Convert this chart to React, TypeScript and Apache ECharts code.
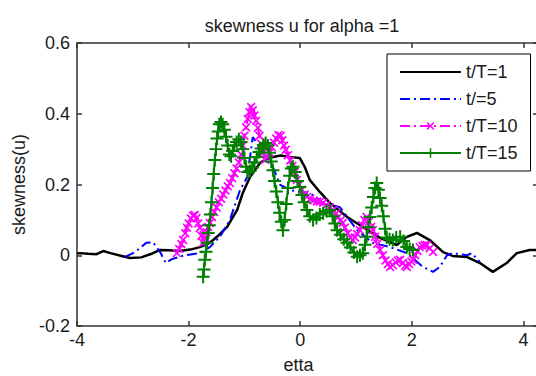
import React, { useEffect, useRef } from "react";
import * as echarts from "echarts";

const FONT = "'Liberation Sans', Arial, Helvetica, sans-serif";
const TITLE = "skewness u for alpha =1";
const X_NAME = "etta";
const Y_NAME = "skewness(u)";
const SERIES_NAMES = ["t/T=1", "t/=5", "t/T=10", "t/T=15"];

const blackX = [-4, -3.95, -3.8, -3.65, -3.53, -3.4, -3.2, -3.05, -2.85, -2.65, -2.51, -2.35, -2.16, -1.97, -1.8, -1.66, -1.56, -1.45, -1.31, -1.13, -1.03, -0.9, -0.72, -0.6, -0.49, -0.35, -0.18, -0.01, 0.08, 0.17, 0.35, 0.53, 0.84, 1.12, 1.43, 1.73, 1.91, 2.09, 2.32, 2.56, 2.73, 2.99, 3.22, 3.45, 3.7, 3.88, 4.11, 4.26];
const blackY = [0.005, 0.006, 0.004, 0.003, 0.012, 0.006, -0.002, -0.008, -0.006, 0.005, 0.015, 0.014, 0.012, 0.016, 0.023, 0.032, 0.043, 0.058, 0.08, 0.128, 0.176, 0.221, 0.261, 0.272, 0.278, 0.282, 0.278, 0.275, 0.25, 0.213, 0.179, 0.148, 0.108, 0.08, 0.049, 0.029, 0.052, 0.063, 0.043, 0.009, -0.002, -0.005, -0.022, -0.047, -0.022, 0.006, 0.015, 0.015];

const blueX = [-3.14, -2.96, -2.76, -2.64, -2.51, -2.41, -2.3, -2.07, -1.8, -1.62, -1.44, -1.26, -1.08, -0.95, -0.85, -0.69, -0.49, -0.36, -0.18, 0.0, 0.17, 0.41, 0.71, 1.02, 1.3, 1.61, 1.91, 2.2, 2.38, 2.5, 2.63, 2.73, 2.99, 3.07, 3.22];
const blueY = [-0.005, 0.009, 0.035, 0.037, 0.009, -0.022, -0.011, 0.0, 0.006, 0.023, 0.052, 0.1, 0.184, 0.221, 0.334, 0.298, 0.249, 0.199, 0.184, 0.18, 0.176, 0.148, 0.136, 0.071, 0.035, 0.023, 0.006, -0.033, -0.047, -0.033, 0.0, 0.006, 0.0, 0.006, -0.019];

const magentaX = [-2.21, -2.17, -2.13, -2.1, -2.06, -2.03, -2.0, -1.96, -1.92, -1.89, -1.86, -1.83, -1.8, -1.77, -1.74, -1.71, -1.68, -1.65, -1.62, -1.58, -1.54, -1.5, -1.46, -1.42, -1.38, -1.34, -1.3, -1.26, -1.22, -1.18, -1.14, -1.1, -1.06, -1.03, -1.0, -0.97, -0.94, -0.91, -0.88, -0.85, -0.82, -0.79, -0.76, -0.73, -0.7, -0.67, -0.63, -0.59, -0.55, -0.51, -0.47, -0.43, -0.39, -0.35, -0.32, -0.29, -0.26, -0.22, -0.18, -0.14, -0.1, -0.06, -0.02, 0.03, 0.08, 0.12, 0.18, 0.24, 0.3, 0.35, 0.41, 0.47, 0.53, 0.59, 0.64, 0.68, 0.72, 0.76, 0.8, 0.85, 0.9, 0.94, 0.98, 1.02, 1.07, 1.11, 1.15, 1.19, 1.23, 1.27, 1.3, 1.34, 1.38, 1.43, 1.48, 1.53, 1.57, 1.61, 1.66, 1.71, 1.75, 1.79, 1.84, 1.88, 1.91, 1.95, 1.99, 2.02, 2.06, 2.1, 2.14, 2.19, 2.23, 2.27, 2.32, 2.38];
const magentaY = [0.006, 0.018, 0.032, 0.043, 0.062, 0.078, 0.09, 0.104, 0.112, 0.114, 0.105, 0.09, 0.077, 0.055, 0.035, 0.05, 0.065, 0.08, 0.091, 0.108, 0.122, 0.135, 0.15, 0.16, 0.172, 0.183, 0.195, 0.204, 0.218, 0.232, 0.245, 0.262, 0.285, 0.31, 0.338, 0.362, 0.385, 0.405, 0.419, 0.41, 0.395, 0.38, 0.36, 0.338, 0.315, 0.29, 0.27, 0.278, 0.29, 0.305, 0.318, 0.33, 0.34, 0.338, 0.325, 0.31, 0.298, 0.283, 0.268, 0.252, 0.235, 0.213, 0.2, 0.185, 0.172, 0.165, 0.16, 0.155, 0.152, 0.151, 0.148, 0.142, 0.135, 0.128, 0.118, 0.108, 0.098, 0.091, 0.078, 0.062, 0.05, 0.043, 0.05, 0.06, 0.071, 0.085, 0.1, 0.108, 0.095, 0.08, 0.071, 0.052, 0.032, 0.015, 0.0, -0.015, -0.025, -0.033, -0.028, -0.02, -0.015, -0.013, -0.022, -0.03, -0.033, -0.025, -0.018, -0.013, 0.0, 0.012, 0.023, 0.027, 0.029, 0.029, 0.02, 0.009];

const greenX = [-1.74, -1.725, -1.71, -1.69, -1.67, -1.65, -1.63, -1.61, -1.59, -1.57, -1.55, -1.53, -1.51, -1.49, -1.47, -1.45, -1.42, -1.39, -1.36, -1.33, -1.3, -1.27, -1.24, -1.21, -1.18, -1.14, -1.1, -1.06, -1.03, -1.0, -0.97, -0.94, -0.9, -0.86, -0.82, -0.78, -0.74, -0.7, -0.66, -0.62, -0.58, -0.55, -0.52, -0.49, -0.46, -0.43, -0.4, -0.37, -0.34, -0.31, -0.28, -0.25, -0.22, -0.19, -0.16, -0.13, -0.09, -0.05, -0.01, 0.03, 0.07, 0.12, 0.17, 0.23, 0.29, 0.35, 0.41, 0.47, 0.53, 0.58, 0.62, 0.66, 0.72, 0.78, 0.84, 0.9, 0.96, 1.02, 1.07, 1.12, 1.16, 1.19, 1.22, 1.25, 1.28, 1.31, 1.34, 1.37, 1.4, 1.43, 1.46, 1.49, 1.52, 1.55, 1.6, 1.66, 1.72, 1.79, 1.85, 1.91, 1.96, 2.02];
const greenY = [-0.061, -0.04, -0.013, 0.01, 0.035, 0.063, 0.085, 0.115, 0.15, 0.19, 0.23, 0.269, 0.3, 0.33, 0.35, 0.37, 0.377, 0.37, 0.355, 0.335, 0.31, 0.285, 0.28, 0.295, 0.31, 0.32, 0.328, 0.32, 0.3, 0.275, 0.25, 0.235, 0.238, 0.248, 0.262, 0.278, 0.292, 0.302, 0.312, 0.317, 0.31, 0.29, 0.265, 0.24, 0.21, 0.18, 0.15, 0.12, 0.095, 0.071, 0.1, 0.145, 0.19, 0.225, 0.245, 0.25, 0.235, 0.21, 0.193, 0.17, 0.15, 0.128, 0.11, 0.1, 0.105, 0.115, 0.119, 0.125, 0.128, 0.11, 0.09, 0.071, 0.058, 0.045, 0.035, 0.022, 0.008, -0.004, 0.0, 0.006, 0.03, 0.052, 0.08, 0.108, 0.135, 0.165, 0.19, 0.204, 0.185, 0.162, 0.14, 0.11, 0.075, 0.05, 0.045, 0.043, 0.05, 0.052, 0.04, 0.023, 0.018, 0.015];

const zip = (xs: number[], ys: number[]) => xs.map((x, i) => [x, ys[i]]);

const PLUS = "path://M5.5,0h2v5.5h5.5v2h-5.5v5.5h-2v-5.5h-5.5v-2h5.5z";
const AXIS_COLOR = "#333";
const TEXT_COLOR = "#1a1a1a";
const HIDDEN = { color: "rgba(0,0,0,0)", borderColor: "rgba(0,0,0,0)", borderWidth: 0, opacity: 0 };

export default function App() {
  const ref = useRef<HTMLDivElement>(null);
  useEffect(() => {
    const chart = echarts.init(ref.current!, null, { renderer: "svg" });
    const axisLine = { show: true, onZero: false, lineStyle: { color: AXIS_COLOR, width: 1.5 } };
    const axisTick = { show: true, inside: true, length: 5, lineStyle: { color: AXIS_COLOR, width: 1.5 } };
    const label = { fontSize: 18, fontFamily: FONT, color: TEXT_COLOR };
    const xFmt = (v: number) => (Math.abs(v - Math.round(v)) < 1e-6 ? String(Math.round(v)) : "");
    const yFmt = (v: number) => {
      const r = Math.round(v * 10) / 10;
      return r === 0 ? "0" : String(r);
    };
    chart.setOption({
      animation: false,
      backgroundColor: "#ffffff",
      title: {
        text: TITLE,
        left: 297,
        top: 12,
        textAlign: "center",
        textStyle: { fontSize: 18, fontWeight: "normal", color: TEXT_COLOR, fontFamily: FONT },
      },
      grid: { left: 77, top: 43, right: -2, bottom: 50, containLabel: false, outerBoundsMode: "none" },
      legend: {
        orient: "vertical",
        left: 387,
        top: 54,
        backgroundColor: "#ffffff",
        borderColor: "#000",
        borderWidth: 1,
        borderRadius: 0,
        padding: [8, 13, 8, 12],
        itemWidth: 61,
        itemHeight: 12,
        itemGap: 7,
        textStyle: { fontSize: 18, fontFamily: FONT, color: TEXT_COLOR, lineHeight: 20 },
        data: [
          { name: SERIES_NAMES[0], itemStyle: HIDDEN },
          { name: SERIES_NAMES[1], itemStyle: HIDDEN },
          { name: SERIES_NAMES[2] },
          { name: SERIES_NAMES[3] },
        ],
      },
      xAxis: [
        {
          type: "value",
          position: "bottom",
          min: -4,
          max: 4.26,
          interval: 2,
          name: X_NAME,
          nameLocation: "middle",
          nameGap: 30,
          nameTextStyle: { ...label, padding: [0, 18, 0, 0] },
          axisLine,
          axisTick,
          axisLabel: { ...label, margin: 5, formatter: xFmt },
          splitLine: { show: false },
        },
        {
          type: "value",
          position: "top",
          min: -4,
          max: 4.26,
          interval: 2,
          axisLine,
          axisTick,
          axisLabel: { show: false },
          splitLine: { show: false },
        },
      ],
      yAxis: [
        {
          type: "value",
          position: "left",
          min: -0.2,
          max: 0.6,
          interval: 0.2,
          name: Y_NAME,
          nameLocation: "middle",
          nameGap: 45,
          nameRotate: 90,
          nameTextStyle: label,
          axisLine,
          axisTick,
          axisLabel: { ...label, margin: 7, formatter: yFmt },
          splitLine: { show: false },
        },
        {
          type: "value",
          position: "right",
          min: -0.2,
          max: 0.6,
          interval: 0.2,
          axisLine,
          axisTick,
          axisLabel: { show: false },
          splitLine: { show: false },
        },
      ],
      series: [
        {
          name: SERIES_NAMES[0],
          type: "line",
          data: zip(blackX, blackY),
          symbol: "none",
          silent: true,
          lineStyle: { color: "#000000", width: 2.5 },
          itemStyle: { color: "#000000" },
        },
        {
          name: SERIES_NAMES[1],
          type: "line",
          data: zip(blueX, blueY),
          symbol: "none",
          silent: true,
          lineStyle: { color: "#0000ff", width: 2, type: [10, 4, 2, 4] },
          itemStyle: { color: "#0000ff" },
        },
        {
          name: SERIES_NAMES[2],
          type: "line",
          data: zip(magentaX, magentaY),
          symbol: PLUS,
          symbolRotate: 45,
          symbolSize: 11,
          showAllSymbol: true,
          silent: true,
          lineStyle: { color: "#ff00ff", width: 2, type: [10, 4, 2, 4] },
          itemStyle: { color: "#ff00ff" },
        },
        {
          name: SERIES_NAMES[3],
          type: "line",
          data: zip(greenX, greenY),
          symbol: PLUS,
          symbolSize: 13,
          showAllSymbol: true,
          silent: true,
          lineStyle: { color: "#008000", width: 2 },
          itemStyle: { color: "#008000" },
        },
      ],
    });
    return () => chart.dispose();
  }, []);
  return <div ref={ref} style={{ position: "absolute", left: 0, top: 0, width: 536, height: 376 }} />;
}
